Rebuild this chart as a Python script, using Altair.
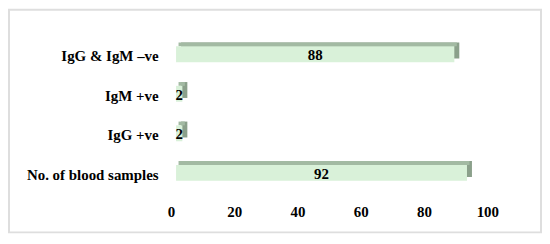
import altair as alt
import pandas as pd

categories = ["IgG & IgM –ve", "IgM +ve", "IgG +ve", "No. of blood samples"]
values = [88, 2, 2, 92]
x_ticks = [0, 20, 40, 60, 80, 100]

df = pd.DataFrame({"cat": categories, "val": values})

FONT = "Liberation Serif"
FS = 15

y_enc = alt.Y("cat:N", sort=categories,
              scale=alt.Scale(paddingInner=0.6, paddingOuter=0.3),
              axis=alt.Axis(title=None, domain=False, ticks=False, labelPadding=18, labelOffset=2,
                            labelFont=FONT, labelFontWeight="bold", labelFontSize=FS,
                            labelColor="#000000", labelLimit=300))
x_enc = alt.X("val:Q", scale=alt.Scale(domain=[0, 100], nice=False),
              axis=alt.Axis(title=None, domain=False, ticks=False, grid=False,
                            values=x_ticks, labelPadding=12, labelOffset=-5,
                            labelFont=FONT, labelFontWeight="bold", labelFontSize=FS,
                            labelColor="#000000", labelFlush=False))

base = alt.Chart(df)

side = base.mark_bar(size=16, xOffset=5, yOffset=-3.8, color="#8ba08b").encode(x=x_enc, y=y_enc)
top = base.mark_bar(size=3.8, xOffset=2.5, yOffset=-9.9, color="#a3baa3").encode(
    x="val:Q", y=alt.Y("cat:N", sort=categories))
front = base.mark_bar(size=16, color="#d9f1d9").encode(
    x="val:Q", y=alt.Y("cat:N", sort=categories))
labels = base.mark_text(font=FONT, fontWeight="bold", fontSize=FS, color="#000000",
                        align="center", baseline="middle", dy=1).encode(
    x=alt.X("half:Q"), y=alt.Y("cat:N", sort=categories), text=alt.Text("val:Q")
).transform_calculate(half="datum.val / 2")

border = alt.Chart(pd.DataFrame({"a": [0]})).mark_rect(
    fillOpacity=0, stroke="#dedede", strokeWidth=2
).encode(x=alt.value(-168), x2=alt.value(367), y=alt.value(-25), y2=alt.value(199))

chart = alt.layer(border, side, top, front, labels).properties(
    width=318, height=159,
    autosize=alt.AutoSizeParams(type="none"),
    padding={"left": 169, "top": 26, "right": 50, "bottom": 43},
).configure_view(strokeWidth=0)

chart.save("out.html", embed_options={"renderer": "svg", "actions": False})
